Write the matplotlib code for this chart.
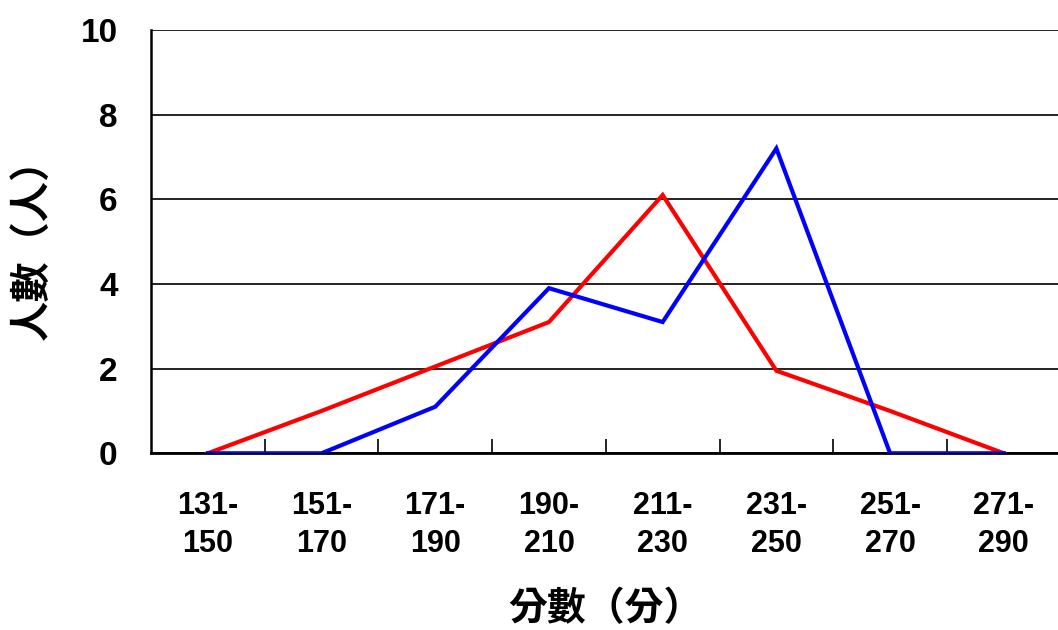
import matplotlib
matplotlib.use("Agg")
import matplotlib.pyplot as plt

plt.rcParams['font.family'] = ['Liberation Sans', 'Noto Sans CJK TC', 'DejaVu Sans']

# score bands and counts of students
bands = ["131-\n150", "151-\n170", "171-\n190", "190-\n210",
         "211-\n230", "231-\n250", "251-\n270", "271-\n290"]
red_counts = [0, 1.0, 2.05, 3.1, 6.1, 1.95, 1.0, 0]
blue_counts = [0, 0, 1.1, 3.9, 3.1, 7.2, 0, 0]
y_ticks = [0, 2, 4, 6, 8, 10]

fig = plt.figure(figsize=(10.58, 6.30), dpi=100)
ax = fig.add_axes([0.1427, 0.2805, 0.8598, 0.672])

x = list(range(len(bands)))
ax.plot(x, red_counts, color='#ff0000', linewidth=3, solid_joinstyle='miter', zorder=3)
ax.plot(x, blue_counts, color='#0000ff', linewidth=3, solid_joinstyle='miter', zorder=3)

ax.set_xlim(-0.5, len(bands) - 0.5)
ax.set_ylim(0, 10)
ax.set_yticks(y_ticks)
ax.set_yticklabels([str(v) for v in y_ticks], fontweight='bold')
ax.yaxis.grid(True, color='#222222', linewidth=1.4)
ax.set_axisbelow(True)

# category labels at centres, tick marks on boundaries
ax.set_xticks(x)
ax.set_xticklabels(bands, fontsize=22, fontweight='bold', linespacing=1.34)
ax.set_xticks([i + 0.5 for i in x[:-1]], minor=True)
ax.tick_params(axis='x', which='major', length=0, pad=27)
ax.tick_params(axis='x', which='minor', direction='in', length=10, width=1.2)
ax.tick_params(axis='y', direction='in', length=0, labelsize=24, pad=24)

for s in ['top', 'right']:
    ax.spines[s].set_visible(False)
ax.spines['left'].set_linewidth(1.8)
ax.spines['bottom'].set_linewidth(2)

ax.set_ylabel("人數（人）", fontsize=29, fontweight='bold',
              family=['Noto Sans CJK TC', 'DejaVu Sans'])
ax.yaxis.set_label_coords(-0.131, 0.505)
ax.yaxis.label.set_va('center')
ax.set_xlabel("分數（分）", fontsize=28, fontweight='bold',
              family=['Noto Sans CJK TC', 'DejaVu Sans'], labelpad=22)

fig.savefig("out.png", dpi=100)
